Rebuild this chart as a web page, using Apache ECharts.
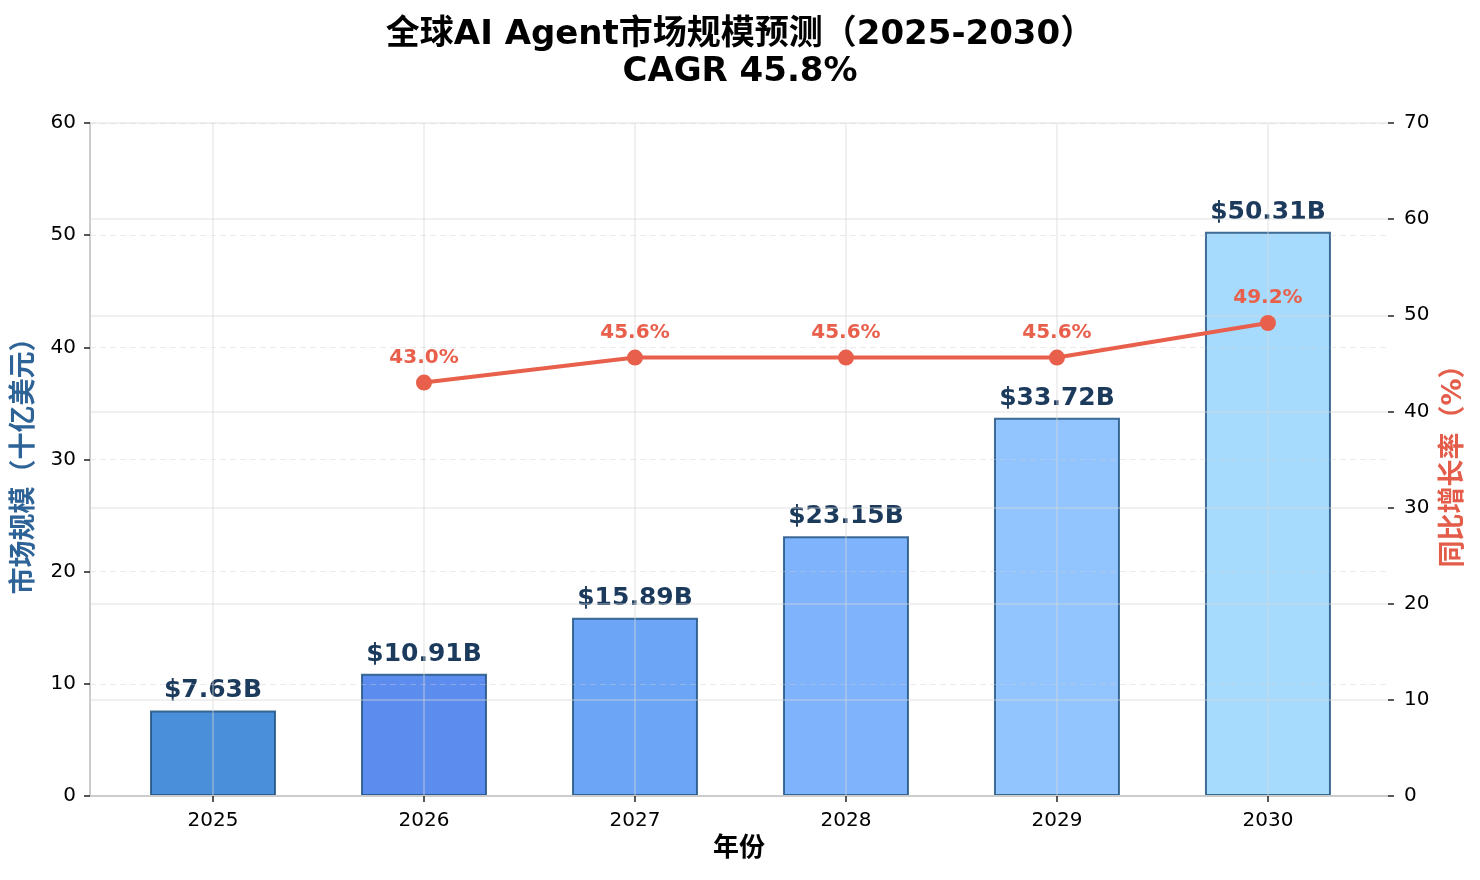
<!DOCTYPE html>
<html>
<head>
<meta charset="utf-8">
<script src="https://cdn.jsdelivr.net/npm/echarts@6/dist/echarts.min.js"></script>
<style>
html,body{margin:0;padding:0;background:#fff;}
#chart{width:1480px;height:880px;}
</style>
</head>
<body>
<div id="chart"></div>
<script>
const years = ['2025', '2026', '2027', '2028', '2029', '2030'];
const marketSize = [7.63, 10.91, 15.89, 23.15, 33.72, 50.31];
const growthRate = [null, 43.0, 45.6, 45.6, 45.6, 49.2];
const leftTicks = [0, 60, 10];
const rightTicks = [0, 70, 10];

const FONT = "'DejaVu Sans', 'Noto Sans CJK SC', sans-serif";
const barColors = ['#4A8FD9', '#5B8CEE', '#6CA5F5', '#7FB4FD', '#92C5FE', '#A6DBFD'];
const idx = years.map((_, i) => i);

const barData = marketSize.map((v, i) => ({
  value: [i, v],
  itemStyle: { color: barColors[i] }
}));
const lineData = [];
growthRate.forEach((v, i) => { if (v !== null) lineData.push([i, v]); });

const chart = echarts.init(document.getElementById('chart'));
chart.setOption({
  animation: false,
  backgroundColor: '#ffffff',
  textStyle: { fontFamily: FONT },
  title: {
    text: '全球AI Agent市场规模预测（2025-2030）\nCAGR 45.8%',
    left: 'center',
    top: 12,
    textStyle: { fontFamily: FONT, fontSize: 34, fontWeight: 'bold', color: '#000', lineHeight: 37 }
  },
  grid: { left: 90, right: 92, top: 123, bottom: 84 },
  xAxis: {
    type: 'value',
    min: -0.583,
    max: 5.569,
    z: 3,
    name: '年份',
    nameLocation: 'middle',
    nameGap: 40,
    nameTextStyle: { fontFamily: FONT, fontSize: 26, fontWeight: 'bold', color: '#000' },
    axisLine: { show: true, onZero: false, lineStyle: { color: '#cccccc', width: 2 } },
    axisTick: { show: true, customValues: idx, length: 6, lineStyle: { color: '#222', width: 1.5 } },
    axisLabel: {
      customValues: idx,
      formatter: v => years[Math.round(v)],
      fontSize: 20, color: '#000', margin: 15, fontFamily: FONT
    },
    splitLine: { show: true, lineStyle: { color: 'rgba(215,215,215,0.5)', width: 1.5 } }
  },
  yAxis: [
    {
      type: 'value',
      min: leftTicks[0], max: leftTicks[1], interval: leftTicks[2],
      z: 3,
      name: '市场规模（十亿美元）',
      nameLocation: 'middle',
      nameGap: 52,
      nameTextStyle: { fontFamily: FONT, fontSize: 27, fontWeight: 'bold', color: '#2D6396' },
      axisLine: { show: true, onZero: false, lineStyle: { color: '#cccccc', width: 2 } },
      axisTick: { show: true, length: 6, lineStyle: { color: '#222', width: 1.5 } },
      axisLabel: { fontSize: 20, color: '#000', margin: 14, fontFamily: FONT },
      splitLine: { show: true, lineStyle: { color: 'rgba(205,205,205,0.4)', width: 1.2, type: [6, 4] } }
    },
    {
      type: 'value',
      min: rightTicks[0], max: rightTicks[1], interval: rightTicks[2],
      z: 3,
      position: 'right',
      name: '同比增长率（%）',
      nameLocation: 'middle',
      nameRotate: 90,
      nameGap: 50,
      nameTextStyle: { fontFamily: FONT, fontSize: 27, fontWeight: 'bold', color: '#E35D4A' },
      axisLine: { show: false, onZero: false },
      axisTick: { show: true, length: 6, lineStyle: { color: '#222', width: 1.5 } },
      axisLabel: { fontSize: 20, color: '#000', margin: 16, fontFamily: FONT },
      splitLine: { show: true, lineStyle: { color: 'rgba(215,215,215,0.5)', width: 1.5 } }
    }
  ],
  series: [
    {
      type: 'bar',
      name: '市场规模',
      data: barData,
      barWidth: 126,
      z: 2,
      itemStyle: { borderColor: 'rgba(35,85,130,0.85)', borderWidth: 2 },
      label: {
        show: true,
        position: 'top',
        distance: 7,
        formatter: p => '$' + p.value[1].toFixed(2) + 'B',
        fontFamily: FONT, fontSize: 25, fontWeight: 'bold', color: '#1B3A5C'
      }
    },
    {
      type: 'line',
      name: '同比增长率',
      yAxisIndex: 1,
      data: lineData,
      z: 10,
      symbol: 'circle',
      symbolSize: 16,
      itemStyle: { color: '#E8604C' },
      lineStyle: { color: '#E8604C', width: 4 },
      label: {
        show: true,
        position: 'top',
        distance: 7,
        formatter: p => p.value[1].toFixed(1) + '%',
        fontFamily: FONT, fontSize: 20, fontWeight: 'bold', color: '#E8604C'
      }
    }
  ]
});
</script>
</body>
</html>
